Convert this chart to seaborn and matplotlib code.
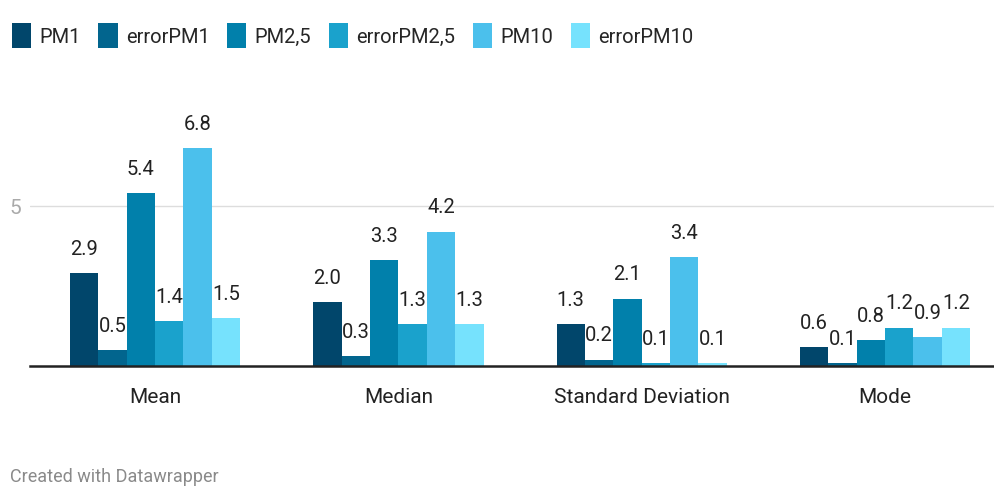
import pandas as pd
import matplotlib.pyplot as plt
import seaborn as sns

# values
stats = ["Mean", "Median", "Standard Deviation", "Mode"]
series = ["PM1", "errorPM1", "PM2,5", "errorPM2,5", "PM10", "errorPM10"]
pm1 = [2.9, 2.0, 1.3, 0.6]
error_pm1 = [0.5, 0.3, 0.2, 0.1]
pm25 = [5.4, 3.3, 2.1, 0.8]
error_pm25 = [1.4, 1.3, 0.1, 1.2]
pm10 = [6.8, 4.2, 3.4, 0.9]
error_pm10 = [1.5, 1.3, 0.1, 1.2]
colors = ["#01466b", "#02658e", "#0180ab", "#1aa2cc", "#4bc0ec", "#76e2fd"]

rows = []
for name, vals in zip(series, [pm1, error_pm1, pm25, error_pm25, pm10, error_pm10]):
    for s, v in zip(stats, vals):
        rows.append({"stat": s, "series": name, "value": v})
df = pd.DataFrame(rows)

sns.set_style("white")
plt.rcParams["font.family"] = ["Roboto", "DejaVu Sans"]

fig = plt.figure(figsize=(9.94, 4.89), dpi=100)
ax = fig.add_axes([30 / 994, 122 / 489, 964 / 994, 267 / 489])

sns.barplot(data=df, x="stat", y="value", hue="series", order=stats,
            hue_order=series, palette=colors, saturation=1, width=0.7,
            linewidth=0, ax=ax, legend=True)

for c in ax.containers:
    ax.bar_label(c, fmt="%.1f", padding=11, fontsize=14.5, color="#222222")

ax.set_ylim(0, 8.34)
ax.set_xlim(-0.514, 3.448)
ax.set_yticks([5])
ax.set_yticklabels(["5"])
ax.tick_params(axis="y", length=0, labelsize=15, labelcolor="#aaaaaa", pad=6)
ax.tick_params(axis="x", length=0, labelsize=15, labelcolor="#222222", pad=15)
ax.yaxis.grid(True, color="#dddddd", linewidth=1)
ax.set_axisbelow(True)
ax.set_xlabel("")
ax.set_ylabel("")
for side in ["top", "right", "left"]:
    ax.spines[side].set_visible(False)
ax.spines["bottom"].set_color("#222222")
ax.spines["bottom"].set_linewidth(1.8)

handles, labels = ax.get_legend_handles_labels()
ax.get_legend().remove()
fig.legend(handles, labels, loc="upper left", bbox_to_anchor=(0.0, 0.975),
           ncol=6, frameon=False, fontsize=14.5, handlelength=0.95,
           handleheight=1.5, handletextpad=0.4, columnspacing=0.88,
           borderaxespad=0.2)

fig.text(10 / 994, 1 - 477 / 489, "Created with Datawrapper", fontsize=13,
         color="#8a8a8a", va="center", ha="left")

fig.savefig("out.png", dpi=100)
